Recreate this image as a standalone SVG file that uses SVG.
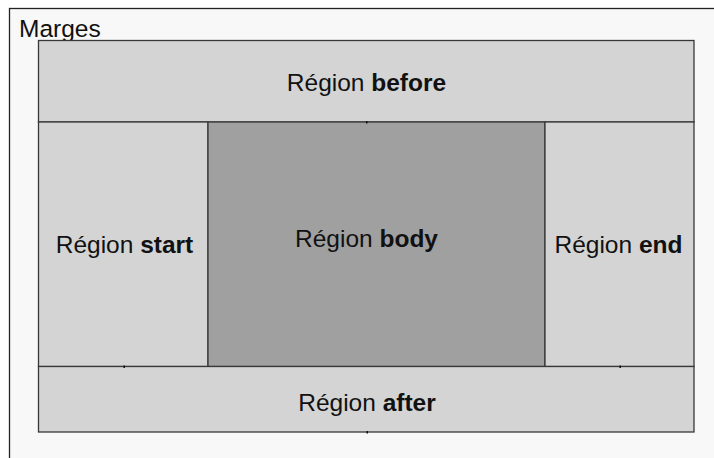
<svg xmlns="http://www.w3.org/2000/svg" width="714" height="458" viewBox="0 0 714 458">
<style>
.reg{fill:#d4d4d4;stroke:#383838;stroke-width:1.3}
.body{fill:#a0a0a0;stroke:#383838;stroke-width:1.3}
text{font-family:"Liberation Sans",Arial,sans-serif;font-size:24.5px;fill:#111}
.b{font-weight:bold}
.tick{fill:#111}
</style>
<rect x="0" y="0" width="714" height="458" fill="#ffffff"/>
<g id="marges">
<rect x="9.5" y="8.5" width="720" height="470" fill="#f8f8f8" stroke="#222" stroke-width="1.3"/>
<text x="19" y="36.5">Marges</text>
</g>
<g id="before">
<rect class="reg" x="38.5" y="40.5" width="655.5" height="81.5"/>
<text x="366.5" y="90.5" text-anchor="middle">Région <tspan class="b">before</tspan></text>
</g>
<g id="start">
<rect class="reg" x="38.5" y="122" width="169.5" height="244.5"/>
<text x="124.5" y="253" text-anchor="middle">Région <tspan class="b">start</tspan></text>
</g>
<g id="body">
<rect class="body" x="208" y="122" width="337" height="244.5"/>
<text x="366.5" y="246.5" text-anchor="middle">Région <tspan class="b">body</tspan></text>
</g>
<g id="end">
<rect class="reg" x="545" y="122" width="149" height="244.5"/>
<text x="618.5" y="253" text-anchor="middle">Région <tspan class="b">end</tspan></text>
</g>
<g id="after">
<rect class="reg" x="38.5" y="366.5" width="655.5" height="65.5"/>
<text x="367" y="410.5" text-anchor="middle">Région <tspan class="b">after</tspan></text>
</g>
<g id="ticks">
<rect class="tick" x="366" y="121" width="1.5" height="2.5"/>
<rect class="tick" x="123.5" y="365.5" width="1.5" height="2.5"/>
<rect class="tick" x="619.5" y="365.5" width="1.5" height="2.5"/>
<rect class="tick" x="366.5" y="431" width="1.5" height="2.5"/>
</g>
</svg>
